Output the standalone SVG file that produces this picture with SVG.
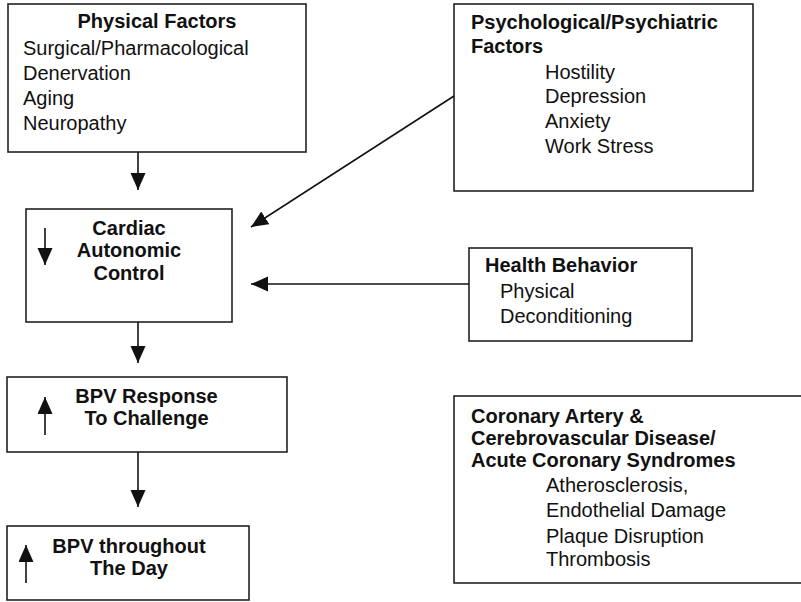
<svg xmlns="http://www.w3.org/2000/svg" width="801" height="602" viewBox="0 0 801 602">
<defs>
<marker id="ah" markerUnits="userSpaceOnUse" markerWidth="18" markerHeight="16" refX="17" refY="7.5" orient="auto">
<path d="M0,0 L17,7.5 L0,15 z" fill="#111"/>
</marker>
<style>
.box{fill:#fff;stroke:#222;stroke-width:1.6}
.t{font-family:"Liberation Sans",Arial,sans-serif;font-size:20px;fill:#111}
.b{font-weight:bold}
.m{text-anchor:middle}
.c{stroke:#111;stroke-width:1.6;fill:none}
</style>
</defs>
<rect width="801" height="602" fill="#fff"/>
<g id="physical">
<rect class="box" x="8" y="4" width="298" height="148"/>
<text class="t b m" x="157" y="28">Physical Factors</text>
<text class="t" x="23" y="55">Surgical/Pharmacological</text>
<text class="t" x="23" y="80">Denervation</text>
<text class="t" x="23" y="105">Aging</text>
<text class="t" x="23" y="130">Neuropathy</text>
</g>
<g id="psych">
<rect class="box" x="454" y="4" width="299" height="187"/>
<text class="t b" x="471" y="29">Psychological/Psychiatric</text>
<text class="t b" x="471" y="53">Factors</text>
<text class="t" x="545" y="79">Hostility</text>
<text class="t" x="545" y="103">Depression</text>
<text class="t" x="545" y="128">Anxiety</text>
<text class="t" x="545" y="153">Work Stress</text>
</g>
<g id="cardiac">
<rect class="box" x="26" y="209" width="206" height="113"/>
<line class="c" x1="45" y1="228" x2="45" y2="265" marker-end="url(#ah)"/>
<text class="t b m" x="129" y="235">Cardiac</text>
<text class="t b m" x="129" y="257">Autonomic</text>
<text class="t b m" x="129" y="280">Control</text>
</g>
<g id="health">
<rect class="box" x="469" y="248" width="223" height="93"/>
<text class="t b" x="485" y="272">Health Behavior</text>
<text class="t" x="500" y="298">Physical</text>
<text class="t" x="500" y="323">Deconditioning</text>
</g>
<g id="bpvresponse">
<rect class="box" x="7" y="377" width="280" height="75"/>
<line class="c" x1="45" y1="435" x2="45" y2="397" marker-end="url(#ah)"/>
<text class="t b m" x="146.5" y="403">BPV Response</text>
<text class="t b m" x="146.5" y="425">To Challenge</text>
</g>
<g id="bpvday">
<rect class="box" x="7" y="526" width="242" height="74"/>
<line class="c" x1="26" y1="583" x2="26" y2="545" marker-end="url(#ah)"/>
<text class="t b m" x="129" y="553">BPV throughout</text>
<text class="t b m" x="129" y="575">The Day</text>
</g>
<g id="coronary">
<rect class="box" x="454" y="396" width="352" height="187"/>
<text class="t b" x="471" y="423">Coronary Artery &amp;</text>
<text class="t b" x="471" y="445">Cerebrovascular Disease/</text>
<text class="t b" x="471" y="467">Acute Coronary Syndromes</text>
<text class="t" x="546" y="492">Atherosclerosis,</text>
<text class="t" x="546" y="517">Endothelial Damage</text>
<text class="t" x="546" y="543">Plaque Disruption</text>
<text class="t" x="546" y="566">Thrombosis</text>
</g>
<g id="connectors">
<line class="c" x1="138" y1="152" x2="138" y2="190" marker-end="url(#ah)"/>
<line class="c" x1="454" y1="96" x2="251" y2="227" marker-end="url(#ah)"/>
<line class="c" x1="469" y1="284" x2="251" y2="284" marker-end="url(#ah)"/>
<line class="c" x1="138" y1="322" x2="138" y2="363" marker-end="url(#ah)"/>
<line class="c" x1="138" y1="452" x2="138" y2="507" marker-end="url(#ah)"/>
</g>
</svg>
